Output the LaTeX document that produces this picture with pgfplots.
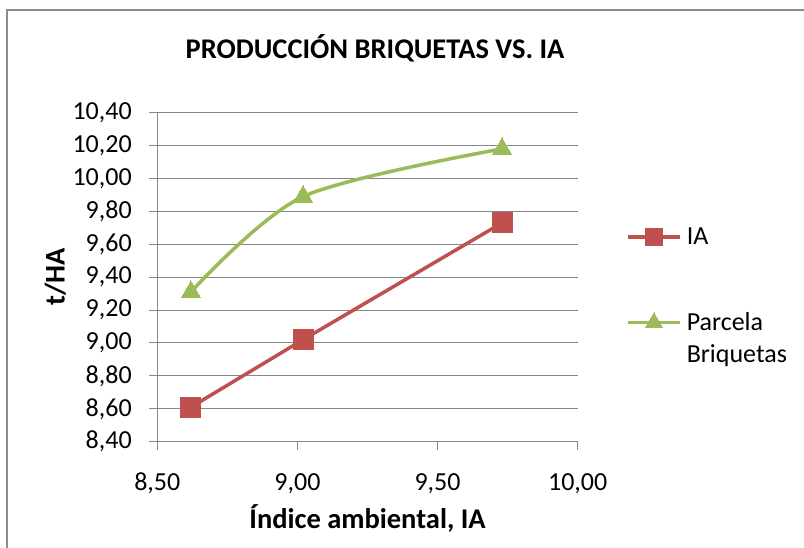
\documentclass[border=0pt]{standalone}
\usepackage{fontspec}
\setmainfont{Carlito}
\usepackage{pgfplots}
\pgfplotsset{compat=1.18}
\definecolor{redA}{HTML}{C0504D}
\definecolor{greenA}{HTML}{9BBB59}
\definecolor{gridc}{HTML}{868686}
\definecolor{framec}{HTML}{8C8C8C}
\begin{document}
\begin{tikzpicture}
\useasboundingbox (0pt,0pt) rectangle (804pt,548pt);
\draw[color=framec, line width=2pt] (7pt,-5pt) -- (7pt,538pt) -- (810pt,538pt);
\begin{axis}[
  at={(157.3pt,106.3pt)}, anchor=south west,
  scale only axis, width=420.4pt, height=329pt,
  xmin=8.5, xmax=10, ymin=8.4, ymax=10.4,
  xtick={8.5,9,9.5,10},
  ytick={8.4,8.6,8.8,9.0,9.2,9.4,9.6,9.8,10.0,10.2,10.4},
  axis lines*=left,
  axis line style={gridc, line width=1pt},
  tick style={gridc, line width=1pt},
  major tick length=8pt,
  tick align=outside,
  ymajorgrids,
  grid style={gridc, line width=1pt},
  /pgf/number format/.cd, fixed, fixed zerofill, precision=2, use comma, assume math mode=true,
  /pgfplots/.cd,
  ticklabel style={font=\fontsize{26}{30}\selectfont, text=black},
  xticklabel style={yshift=-20pt},
  yticklabel style={xshift=-14pt},
  title={PRODUCCIÓN BRIQUETAS VS. IA},
  title style={font=\fontsize{28.5}{32}\selectfont\bfseries, at={(axis description cs:0.518,1)}, anchor=base, yshift=48pt},
  xlabel={Índice ambiental, IA},
  xlabel style={font=\fontsize{28.5}{32}\selectfont\bfseries, at={(axis description cs:0.5,0)}, anchor=center, yshift=-77pt},
  ylabel={t/HA},
  ylabel style={font=\fontsize{28.5}{32}\selectfont\bfseries, at={(axis description cs:0,0.5)}, anchor=center, yshift=102pt},
  legend image code/.code={\draw[mark repeat=2,mark phase=2,#1] plot coordinates {(0pt,0pt) (26pt,0pt) (52pt,0pt)};},
  legend style={draw=none, fill=none, inner sep=0pt, at={(axis description cs:1.115,0.657)}, anchor=north west,
    font=\fontsize{26}{30}\selectfont, row sep=63pt, column sep=3pt, nodes={inner sep=2pt}},
  legend cell align=left,
]
\addplot[redA, line width=3.5pt, mark=square*, mark size=10pt, mark options={solid, fill=redA, draw=redA, line width=0pt},
  legend image post style={mark size=8.5pt}]
  coordinates {(8.62,8.61) (9.02,9.02) (9.73,9.73)};
\addlegendentry{IA}
\addplot[greenA, line width=3.5pt, smooth, mark=triangle*, mark size=11pt, mark options={solid, fill=greenA, draw=greenA, line width=0pt},
  legend image post style={mark size=10pt}]
  coordinates {(8.62,9.31) (9.02,9.89) (9.73,10.18)};
\addlegendentry{\raisebox{0pt}[\height][0pt]{\vtop{\baselineskip=32pt\hbox{Parcela}\hbox{Briquetas}}}}
\end{axis}
\end{tikzpicture}
\end{document}
